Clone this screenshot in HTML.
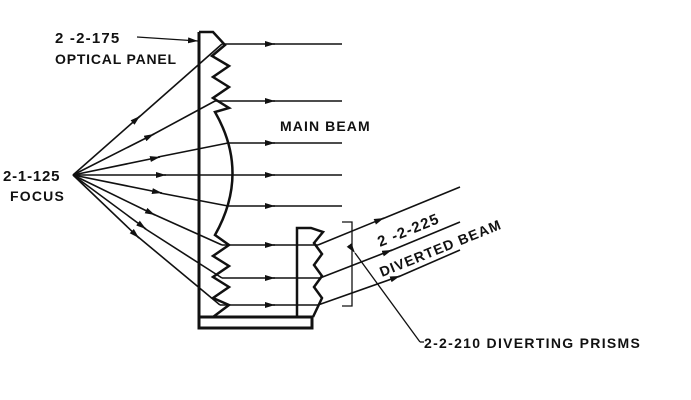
<!DOCTYPE html>
<html><head><meta charset="utf-8"><style>
html,body{margin:0;padding:0;background:#fff;}
svg{display:block;}
text{font-family:"Liberation Sans",sans-serif;font-weight:bold;fill:#111;}
</style></head><body>
<svg width="691" height="400" viewBox="0 0 691 400" xmlns="http://www.w3.org/2000/svg">
<defs>
<marker id="a" viewBox="0 0 10 6" refX="10" refY="3" markerWidth="10" markerHeight="6" markerUnits="userSpaceOnUse" orient="auto">
<path d="M0,0 L10,3 L0,6 z" fill="#111"/></marker>
</defs>
<g stroke="#111" stroke-width="1.6" fill="none">
<path d="M199,32 L199,328 L312,328 L312,317 L199,317" stroke-width="3"/>
<path d="M199,32 L213,32 L225,45 L212,56 L229,66 L213,77 L229,87 L213,98 L229,108 L215,112 Q250,173 215,235 L229,245 L213,256 L229,266 L213,277 L229,287 L213,298 L229,305 L213,317" stroke-width="2.5"/>
<path d="M297,317 L297,228 L311,228 L323,232 L314,243 L322,254 L314,265 L322,276 L314,287 L322,298 L313,317" stroke-width="2.5"/>
<g>
<line x1="222" y1="44" x2="275" y2="44" marker-end="url(#a)"/><line x1="273" y1="44" x2="342" y2="44"/>
<line x1="215" y1="101" x2="275" y2="101" marker-end="url(#a)"/><line x1="273" y1="101" x2="342" y2="101"/>
<line x1="228" y1="143" x2="275" y2="143" marker-end="url(#a)"/><line x1="273" y1="143" x2="342" y2="143"/>
<line x1="235" y1="175" x2="275" y2="175" marker-end="url(#a)"/><line x1="273" y1="175" x2="342" y2="175"/>
<line x1="228" y1="206" x2="275" y2="206" marker-end="url(#a)"/><line x1="273" y1="206" x2="342" y2="206"/>
<line x1="222" y1="245" x2="275" y2="245" marker-end="url(#a)"/><line x1="273" y1="245" x2="318" y2="245"/>
<line x1="222" y1="278" x2="275" y2="278" marker-end="url(#a)"/><line x1="273" y1="278" x2="320" y2="278"/>
<line x1="220" y1="305" x2="275" y2="305" marker-end="url(#a)"/><line x1="273" y1="305" x2="318" y2="305"/>
</g>
<line x1="318" y1="245" x2="384" y2="218" marker-end="url(#a)"/><line x1="382" y1="219" x2="460" y2="187"/>
<line x1="320" y1="278" x2="392" y2="250" marker-end="url(#a)"/><line x1="390" y1="251" x2="460" y2="222"/>
<line x1="318" y1="305" x2="400" y2="276" marker-end="url(#a)"/><line x1="398" y1="277" x2="460" y2="250"/>
<line x1="73" y1="175" x2="140" y2="116" marker-end="url(#a)"/><line x1="138" y1="118" x2="222" y2="44"/>
<line x1="73" y1="175" x2="154" y2="134" marker-end="url(#a)"/><line x1="152" y1="135" x2="215" y2="101"/>
<line x1="73" y1="175" x2="160" y2="157" marker-end="url(#a)"/><line x1="158" y1="157" x2="228" y2="143"/>
<line x1="73" y1="175" x2="166" y2="175" marker-end="url(#a)"/><line x1="164" y1="175" x2="235" y2="175"/>
<line x1="73" y1="175" x2="162" y2="193" marker-end="url(#a)"/><line x1="160" y1="193" x2="228" y2="206"/>
<line x1="73" y1="175" x2="155" y2="215" marker-end="url(#a)"/><line x1="153" y1="214" x2="222" y2="245"/>
<line x1="73" y1="175" x2="146" y2="229" marker-end="url(#a)"/><line x1="144" y1="228" x2="222" y2="278"/>
<line x1="73" y1="175" x2="139" y2="238" marker-end="url(#a)"/><line x1="137" y1="236" x2="220" y2="305"/>
<path d="M342,222 L352,222 L352,306 L342,306" stroke-width="1.3"/>
<line x1="355" y1="253" x2="420" y2="342" stroke-width="1.3" marker-start="url(#a)"/>
<line x1="420" y1="342" x2="424" y2="342" stroke-width="1.3"/>
<line x1="137" y1="37" x2="198" y2="41" stroke-width="1.2" marker-end="url(#a)"/>
</g>
<text x="55" y="43" font-size="15" letter-spacing="1.2">2 -2-175</text>
<text x="55" y="64" font-size="14" letter-spacing="0.8">OPTICAL PANEL</text>
<text x="280" y="131" font-size="14" letter-spacing="1.1">MAIN BEAM</text>
<text x="3" y="181" font-size="15" letter-spacing="0.8">2-1-125</text>
<text x="10" y="201" font-size="14" letter-spacing="1.2">FOCUS</text>
<text x="424" y="348" font-size="14" letter-spacing="1.3">2-2-210 DIVERTING PRISMS</text>
<text transform="translate(380,247) rotate(-22)" font-size="15" letter-spacing="1.2">2 -2-225</text>
<text transform="translate(382,277) rotate(-22)" font-size="14" letter-spacing="1.1">DIVERTED BEAM</text>
</svg>
</body></html>
